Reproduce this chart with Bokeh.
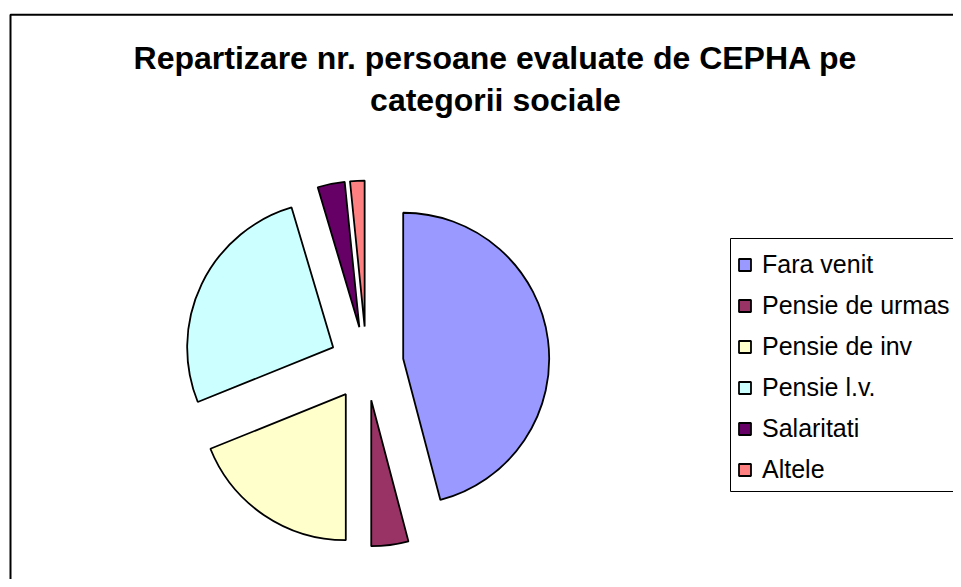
import numpy as np
from bokeh.plotting import figure
from bokeh.models import Range1d, Legend, LegendItem, BoxAnnotation, ColumnDataSource, Label
from bokeh.embed import file_html
from bokeh.resources import INLINE

# ---- data ----
categories = ["Fara venit", "Pensie de urmas", "Pensie de inv", "Pensie l.v.", "Salaritati", "Altele"]
values = [45.9, 4.1, 18.9, 26.5, 3.0, 1.6]
colors = ["#9999FF", "#993366", "#FFFFCC", "#CCFFFF", "#660066", "#FF8080"]
title_lines = ["Repartizare nr. persoane evaluate de CEPHA pe", "categorii sociale"]

# ---- layout (pixel-like data space) ----
W, H = 953, 579
FONT = "Liberation Sans"
cx, cy = 366, 216      # pie centre
R = 146                # radius
EXPLODE = 37           # explode distance

vals = np.array(values, dtype=float)
frac = vals / vals.sum()
cum = np.concatenate([[0.0], np.cumsum(frac)]) * 2 * np.pi
theta0, theta1 = cum[:-1], cum[1:]
mid = (theta0 + theta1) / 2
src = ColumnDataSource(dict(
    x=cx + EXPLODE * np.sin(mid),
    y=cy + EXPLODE * np.cos(mid),
    start=np.pi / 2 - theta0,
    end=np.pi / 2 - theta1,
    color=colors,
    cat=categories,
))

p = figure(width=W, height=H, output_backend="svg", toolbar_location=None,
           x_range=Range1d(0, W), y_range=Range1d(0, H), min_border=0,
           x_axis_location=None, y_axis_location=None)
p.xgrid.visible = False
p.ygrid.visible = False
p.outline_line_color = None
p.background_fill_color = "white"
p.border_fill_color = "white"

# chart frame (extends past the window on right/bottom)
p.add_layout(BoxAnnotation(left=10, right=3000, top=564.7, bottom=-3000,
                           fill_alpha=0, line_color="black", line_alpha=1,
                           line_width=2))

r = p.wedge(x="x", y="y", radius=R, start_angle="start", end_angle="end",
            direction="clock", fill_color="color", line_color="black",
            line_width=1.8, source=src)

# title
for i, t in enumerate(title_lines):
    p.add_layout(Label(x=495, y=522 - 42 * i, text=t, text_align="center",
                       text_baseline="alphabetic", text_font=FONT,
                       text_font_size="32px", text_font_style="bold",
                       text_color="black"))

# legend frame
p.add_layout(BoxAnnotation(left=730, right=3000, top=341, bottom=88,
                           fill_color="white", fill_alpha=1,
                           line_color="black", line_alpha=1, line_width=1))

items = [LegendItem(label=c, renderers=[r], index=i) for i, c in enumerate(categories)]
legend = Legend(items=items, location=(737, 89), orientation="vertical",
                border_line_color=None, background_fill_alpha=0,
                label_text_font=FONT, label_text_font_size="25px",
                label_text_color="black",
                glyph_width=15, glyph_height=15, label_standoff=10,
                label_height=41, spacing=0, padding=3, margin=0)
p.add_layout(legend)

html = file_html(p, INLINE, title="chart")
open("out.html", "w").write(html)
